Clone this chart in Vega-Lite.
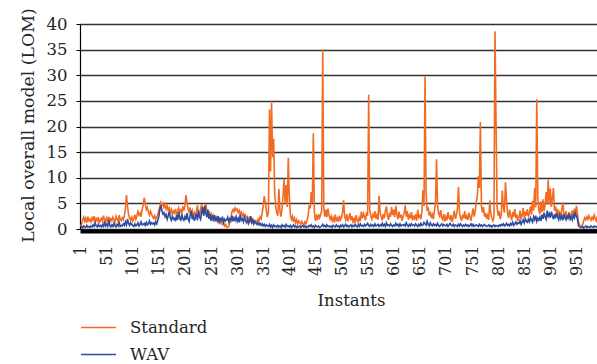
{
"$schema":"https://vega.github.io/schema/vega-lite/v6.json",
"autosize":{"type":"none"},
"padding":{"left":80,"top":24,"right":0,"bottom":135},
"width":517,"height":205,
"background":"white",
"config":{"view":{"stroke":null},"font":"DejaVu Serif",
"axisY":{"labelOverlap":false,"grid":true,"gridColor":"#333","gridWidth":1.3,"domainColor":"#000","domainWidth":1.2,"tickColor":"#000","tickSize":4,"labelPadding":9,"labelFont":"DejaVu Serif","labelFontSize":16.5,"labelColor":"#262626","titleFont":"DejaVu Serif","titleFontSize":17.3,"titleFontWeight":"normal","titleColor":"#262626","titleX":-47,"titleY":101,"titleAngle":-90,"titleBaseline":"alphabetic","titleAlign":"center"}},
"data":{"values":[
{"i":1,"s":0.6,"w":0.3},{"i":3,"s":0.9,"w":0.5},{"i":5,"s":1.8,"w":0.2},{"i":7,"s":2.3,"w":0.6},{"i":9,"s":1.5,"w":0.4},{"i":11,"s":2.1,"w":0.3},{"i":13,"s":1.2,"w":0.7},{"i":15,"s":2.4,"w":0.4},{"i":17,"s":1.6,"w":0.5},{"i":19,"s":1.9,"w":0.3},
{"i":21,"s":1.4,"w":0.6},{"i":23,"s":2.2,"w":0.4},{"i":25,"s":1.7,"w":0.8},{"i":27,"s":2.5,"w":0.5},{"i":29,"s":1.3,"w":1.2},{"i":31,"s":2.0,"w":0.6},{"i":33,"s":1.6,"w":0.4},{"i":35,"s":2.3,"w":0.9},{"i":37,"s":1.1,"w":0.5},{"i":39,"s":1.8,"w":0.7},
{"i":41,"s":2.1,"w":0.4},{"i":43,"s":1.5,"w":0.8},{"i":45,"s":2.6,"w":0.5},{"i":47,"s":1.9,"w":1.5},{"i":49,"s":1.2,"w":0.6},{"i":51,"s":2.2,"w":0.9},{"i":53,"s":1.7,"w":0.5},{"i":55,"s":2.4,"w":1.8},{"i":57,"s":1.4,"w":0.7},{"i":59,"s":2.0,"w":0.4},
{"i":61,"s":1.6,"w":0.8},{"i":63,"s":2.3,"w":0.5},{"i":65,"s":1.8,"w":1.1},{"i":67,"s":1.3,"w":0.6},{"i":69,"s":2.5,"w":0.4},{"i":71,"s":2.0,"w":0.9},{"i":73,"s":1.5,"w":0.6},{"i":75,"s":2.7,"w":1.3},{"i":77,"s":1.9,"w":0.5},{"i":79,"s":1.6,"w":0.7},
{"i":81,"s":2.2,"w":0.6},{"i":83,"s":1.8,"w":1.0},{"i":85,"s":2.6,"w":0.7},{"i":87,"s":3.9,"w":1.4},{"i":89,"s":6.6,"w":0.8},{"i":91,"s":4.5,"w":1.9},{"i":93,"s":2.8,"w":1.1},{"i":95,"s":2.1,"w":0.7},{"i":97,"s":1.7,"w":1.2},{"i":99,"s":2.3,"w":0.9},
{"i":101,"s":1.5,"w":0.7},{"i":103,"s":2.0,"w":0.5},{"i":105,"s":2.8,"w":1.0},{"i":107,"s":1.9,"w":0.6},{"i":109,"s":2.6,"w":0.8},{"i":111,"s":3.4,"w":1.2},{"i":113,"s":2.7,"w":0.6},{"i":115,"s":3.1,"w":0.9},{"i":117,"s":2.4,"w":1.4},{"i":119,"s":3.8,"w":0.8},
{"i":121,"s":4.6,"w":0.9},{"i":123,"s":6.1,"w":1.1},{"i":125,"s":4.9,"w":0.7},{"i":127,"s":3.8,"w":1.3},{"i":129,"s":4.2,"w":0.8},{"i":131,"s":3.3,"w":1.0},{"i":133,"s":2.7,"w":1.6},{"i":135,"s":3.5,"w":0.9},{"i":137,"s":2.9,"w":1.2},{"i":139,"s":2.4,"w":1.0},
{"i":141,"s":2.1,"w":1.2},{"i":143,"s":2.6,"w":0.8},{"i":145,"s":1.9,"w":1.4},{"i":147,"s":2.3,"w":1.0},{"i":149,"s":2.8,"w":1.7},{"i":151,"s":3.6,"w":2.4},{"i":153,"s":4.4,"w":3.8},{"i":155,"s":5.2,"w":4.6},{"i":157,"s":4.6,"w":3.5},{"i":159,"s":5.0,"w":2.9},
{"i":161,"s":4.2,"w":3.2},{"i":163,"s":4.8,"w":2.4},{"i":165,"s":3.9,"w":2.8},{"i":167,"s":4.5,"w":1.9},{"i":169,"s":3.6,"w":2.6},{"i":171,"s":4.1,"w":3.4},{"i":173,"s":3.2,"w":2.2},{"i":175,"s":3.8,"w":1.7},{"i":177,"s":2.9,"w":2.5},{"i":179,"s":3.5,"w":1.9},
{"i":181,"s":3.1,"w":2.1},{"i":183,"s":3.9,"w":1.5},{"i":185,"s":2.8,"w":2.7},{"i":187,"s":3.4,"w":1.8},{"i":189,"s":4.1,"w":3.3},{"i":191,"s":3.3,"w":2.2},{"i":193,"s":3.7,"w":1.6},{"i":195,"s":2.9,"w":2.9},{"i":197,"s":4.4,"w":2.0},{"i":199,"s":3.6,"w":1.7},
{"i":201,"s":4.7,"w":2.4},{"i":203,"s":6.6,"w":1.8},{"i":205,"s":5.1,"w":3.1},{"i":207,"s":4.0,"w":2.0},{"i":209,"s":3.3,"w":1.5},{"i":211,"s":4.2,"w":2.6},{"i":213,"s":2.9,"w":3.5},{"i":215,"s":3.6,"w":1.9},{"i":217,"s":2.7,"w":2.8},{"i":219,"s":3.2,"w":1.6},
{"i":221,"s":2.6,"w":2.2},{"i":223,"s":3.4,"w":3.0},{"i":225,"s":4.6,"w":1.7},{"i":227,"s":3.1,"w":3.6},{"i":229,"s":2.5,"w":2.4},{"i":231,"s":3.9,"w":1.9},{"i":233,"s":4.8,"w":3.3},{"i":235,"s":3.3,"w":4.3},{"i":237,"s":2.7,"w":2.6},{"i":239,"s":4.1,"w":4.5},
{"i":241,"s":4.9,"w":3.1},{"i":243,"s":3.6,"w":2.3},{"i":245,"s":2.8,"w":3.8},{"i":247,"s":3.5,"w":2.0},{"i":249,"s":2.4,"w":2.9},{"i":251,"s":3.0,"w":1.6},{"i":253,"s":2.2,"w":2.4},{"i":255,"s":2.7,"w":1.8},{"i":257,"s":1.9,"w":2.7},{"i":259,"s":2.4,"w":1.5},
{"i":261,"s":1.8,"w":2.2},{"i":263,"s":2.2,"w":1.6},{"i":265,"s":1.5,"w":2.5},{"i":267,"s":1.9,"w":1.4},{"i":269,"s":1.2,"w":2.0},{"i":271,"s":1.6,"w":1.7},{"i":273,"s":0.9,"w":2.4},{"i":275,"s":1.3,"w":1.3},{"i":277,"s":0.6,"w":1.9},{"i":279,"s":0.9,"w":1.6},
{"i":281,"s":0.4,"w":1.8},{"i":283,"s":0.3,"w":2.3},{"i":285,"s":0.6,"w":1.4},{"i":287,"s":1.2,"w":2.0},{"i":289,"s":2.1,"w":1.6},{"i":291,"s":3.3,"w":2.6},{"i":293,"s":3.8,"w":1.5},{"i":295,"s":3.4,"w":2.2},{"i":297,"s":4.1,"w":1.7},{"i":299,"s":3.6,"w":2.4},
{"i":301,"s":3.9,"w":1.5},{"i":303,"s":3.2,"w":2.1},{"i":305,"s":3.6,"w":1.3},{"i":307,"s":2.8,"w":2.8},{"i":309,"s":3.3,"w":1.7},{"i":311,"s":2.6,"w":2.0},{"i":313,"s":3.0,"w":1.4},{"i":315,"s":2.3,"w":2.3},{"i":317,"s":2.7,"w":1.6},{"i":319,"s":2.1,"w":1.2},
{"i":321,"s":2.4,"w":1.9},{"i":323,"s":1.8,"w":1.1},{"i":325,"s":2.2,"w":1.6},{"i":327,"s":1.5,"w":2.5},{"i":329,"s":1.9,"w":1.3},{"i":331,"s":1.3,"w":1.8},{"i":333,"s":1.7,"w":1.0},{"i":335,"s":1.2,"w":1.5},{"i":337,"s":1.6,"w":1.2},{"i":339,"s":1.4,"w":0.9},
{"i":341,"s":1.9,"w":1.3},{"i":343,"s":1.6,"w":0.8},{"i":345,"s":2.4,"w":1.1},{"i":347,"s":2.0,"w":0.7},{"i":349,"s":3.1,"w":1.0},{"i":351,"s":4.5,"w":0.6},{"i":353,"s":6.4,"w":0.9},{"i":355,"s":5.2,"w":0.5},{"i":357,"s":3.6,"w":0.8},{"i":359,"s":2.3,"w":0.6},
{"i":361,"s":3.5,"w":0.5},{"i":363,"s":23.3,"w":0.9},{"i":365,"s":11.2,"w":0.4},{"i":367,"s":24.6,"w":0.7},{"i":369,"s":14.0,"w":0.3},{"i":371,"s":17.6,"w":0.8},{"i":373,"s":6.8,"w":0.5},{"i":375,"s":4.2,"w":0.6},{"i":377,"s":3.1,"w":0.4},{"i":379,"s":2.6,"w":0.7},
{"i":381,"s":7.8,"w":0.4},{"i":383,"s":3.5,"w":0.6},{"i":385,"s":2.4,"w":0.3},{"i":387,"s":4.1,"w":0.8},{"i":389,"s":6.5,"w":0.5},{"i":391,"s":9.8,"w":0.7},{"i":393,"s":5.2,"w":0.4},{"i":395,"s":8.6,"w":0.9},{"i":397,"s":4.3,"w":0.5},{"i":399,"s":13.9,"w":0.6},
{"i":401,"s":6.2,"w":0.4},{"i":403,"s":2.8,"w":0.7},{"i":405,"s":1.9,"w":0.3},{"i":407,"s":2.5,"w":0.5},{"i":409,"s":1.4,"w":0.8},{"i":411,"s":2.1,"w":0.4},{"i":413,"s":1.2,"w":0.6},{"i":415,"s":1.8,"w":0.3},{"i":417,"s":1.0,"w":0.5},{"i":419,"s":1.6,"w":0.4},
{"i":421,"s":1.3,"w":0.6},{"i":423,"s":0.9,"w":0.3},{"i":425,"s":1.5,"w":0.5},{"i":427,"s":1.1,"w":0.7},{"i":429,"s":0.8,"w":0.4},{"i":431,"s":1.4,"w":0.6},{"i":433,"s":1.0,"w":0.3},{"i":435,"s":1.7,"w":0.5},{"i":437,"s":2.6,"w":0.4},{"i":439,"s":4.6,"w":0.7},
{"i":441,"s":4.0,"w":0.5},{"i":443,"s":7.2,"w":0.8},{"i":445,"s":5.1,"w":0.4},{"i":447,"s":18.7,"w":0.6},{"i":449,"s":3.4,"w":0.3},{"i":451,"s":1.6,"w":0.7},{"i":453,"s":2.5,"w":0.5},{"i":455,"s":1.8,"w":0.4},{"i":457,"s":2.9,"w":0.6},{"i":459,"s":2.2,"w":0.3},
{"i":461,"s":2.8,"w":0.4},{"i":463,"s":3.6,"w":0.6},{"i":465,"s":35.0,"w":0.9},{"i":467,"s":4.2,"w":0.5},{"i":469,"s":2.4,"w":0.7},{"i":471,"s":3.8,"w":0.4},{"i":473,"s":2.3,"w":0.8},{"i":475,"s":4.0,"w":0.5},{"i":477,"s":2.7,"w":0.6},{"i":479,"s":1.9,"w":0.4},
{"i":481,"s":2.5,"w":0.6},{"i":483,"s":1.6,"w":0.3},{"i":485,"s":2.2,"w":0.7},{"i":487,"s":1.3,"w":0.5},{"i":489,"s":2.8,"w":0.4},{"i":491,"s":1.7,"w":0.8},{"i":493,"s":2.1,"w":0.5},{"i":495,"s":1.4,"w":0.6},{"i":497,"s":2.6,"w":0.3},{"i":499,"s":1.8,"w":0.7},
{"i":501,"s":2.3,"w":0.5},{"i":503,"s":3.3,"w":0.8},{"i":505,"s":5.6,"w":0.4},{"i":507,"s":2.4,"w":0.6},{"i":509,"s":1.8,"w":0.9},{"i":511,"s":2.9,"w":0.5},{"i":513,"s":1.5,"w":0.7},{"i":515,"s":2.2,"w":0.4},{"i":517,"s":3.1,"w":0.6},{"i":519,"s":1.7,"w":0.8},
{"i":521,"s":2.5,"w":0.4},{"i":523,"s":1.4,"w":0.7},{"i":525,"s":2.0,"w":0.5},{"i":527,"s":1.2,"w":0.9},{"i":529,"s":2.7,"w":0.6},{"i":531,"s":1.8,"w":0.4},{"i":533,"s":1.3,"w":0.8},{"i":535,"s":2.2,"w":0.5},{"i":537,"s":1.6,"w":1.0},{"i":539,"s":3.4,"w":0.6},
{"i":541,"s":2.1,"w":0.7},{"i":543,"s":3.0,"w":0.5},{"i":545,"s":2.4,"w":0.9},{"i":547,"s":1.7,"w":0.6},{"i":549,"s":3.3,"w":0.8},{"i":551,"s":2.6,"w":1.1},{"i":553,"s":26.2,"w":0.7},{"i":555,"s":3.8,"w":0.5},{"i":557,"s":2.5,"w":0.9},{"i":559,"s":1.9,"w":0.6},
{"i":561,"s":2.8,"w":0.8},{"i":563,"s":2.2,"w":0.5},{"i":565,"s":3.5,"w":1.0},{"i":567,"s":2.0,"w":0.6},{"i":569,"s":2.7,"w":0.7},{"i":571,"s":1.8,"w":0.9},{"i":573,"s":6.5,"w":0.5},{"i":575,"s":3.2,"w":0.8},{"i":577,"s":2.4,"w":0.6},{"i":579,"s":1.7,"w":1.1},
{"i":581,"s":2.9,"w":0.6},{"i":583,"s":2.1,"w":0.9},{"i":585,"s":3.6,"w":0.5},{"i":587,"s":4.4,"w":1.2},{"i":589,"s":2.5,"w":0.7},{"i":591,"s":1.8,"w":0.8},{"i":593,"s":3.2,"w":0.6},{"i":595,"s":2.4,"w":1.0},{"i":597,"s":4.3,"w":0.7},{"i":599,"s":2.7,"w":0.5},
{"i":601,"s":3.8,"w":0.8},{"i":603,"s":2.3,"w":0.6},{"i":605,"s":4.5,"w":1.1},{"i":607,"s":2.9,"w":0.7},{"i":609,"s":1.9,"w":0.9},{"i":611,"s":3.4,"w":0.5},{"i":613,"s":2.2,"w":1.0},{"i":615,"s":2.8,"w":0.6},{"i":617,"s":1.6,"w":0.8},{"i":619,"s":2.5,"w":0.7},
{"i":621,"s":3.1,"w":0.9},{"i":623,"s":4.6,"w":0.6},{"i":625,"s":2.4,"w":1.2},{"i":627,"s":3.5,"w":0.7},{"i":629,"s":1.8,"w":0.5},{"i":631,"s":2.7,"w":0.9},{"i":633,"s":2.1,"w":0.6},{"i":635,"s":3.3,"w":1.0},{"i":637,"s":1.7,"w":0.7},{"i":639,"s":2.4,"w":0.8},
{"i":641,"s":2.0,"w":0.6},{"i":643,"s":2.9,"w":1.0},{"i":645,"s":1.6,"w":0.7},{"i":647,"s":3.8,"w":0.5},{"i":649,"s":2.3,"w":0.9},{"i":651,"s":2.6,"w":0.6},{"i":653,"s":1.9,"w":1.1},{"i":655,"s":3.4,"w":0.7},{"i":657,"s":7.6,"w":0.8},{"i":659,"s":4.5,"w":1.3},
{"i":661,"s":29.7,"w":1.0},{"i":663,"s":6.8,"w":0.7},{"i":665,"s":3.5,"w":1.5},{"i":667,"s":4.2,"w":0.9},{"i":669,"s":2.6,"w":0.6},{"i":671,"s":3.4,"w":1.2},{"i":673,"s":2.1,"w":0.8},{"i":675,"s":2.8,"w":0.6},{"i":677,"s":1.9,"w":1.0},{"i":679,"s":3.6,"w":0.7},
{"i":681,"s":5.1,"w":0.9},{"i":683,"s":13.6,"w":0.6},{"i":685,"s":4.4,"w":1.1},{"i":687,"s":3.0,"w":0.7},{"i":689,"s":2.5,"w":0.5},{"i":691,"s":3.7,"w":0.8},{"i":693,"s":2.2,"w":1.0},{"i":695,"s":1.8,"w":0.6},{"i":697,"s":2.9,"w":0.9},{"i":699,"s":1.5,"w":0.7},
{"i":701,"s":2.4,"w":0.6},{"i":703,"s":1.7,"w":0.9},{"i":705,"s":3.3,"w":0.5},{"i":707,"s":2.2,"w":0.8},{"i":709,"s":1.9,"w":1.1},{"i":711,"s":2.7,"w":0.7},{"i":713,"s":1.4,"w":0.6},{"i":715,"s":2.3,"w":0.9},{"i":717,"s":3.6,"w":0.5},{"i":719,"s":2.0,"w":0.8},
{"i":721,"s":2.6,"w":0.7},{"i":723,"s":3.9,"w":0.5},{"i":725,"s":8.2,"w":0.9},{"i":727,"s":3.1,"w":0.6},{"i":729,"s":2.2,"w":1.0},{"i":731,"s":1.6,"w":0.7},{"i":733,"s":2.8,"w":0.5},{"i":735,"s":2.1,"w":0.8},{"i":737,"s":3.5,"w":0.6},{"i":739,"s":1.9,"w":0.9},
{"i":741,"s":2.5,"w":0.6},{"i":743,"s":1.8,"w":0.8},{"i":745,"s":3.2,"w":0.5},{"i":747,"s":2.3,"w":0.7},{"i":749,"s":1.6,"w":1.0},{"i":751,"s":2.9,"w":0.6},{"i":753,"s":4.0,"w":0.9},{"i":755,"s":2.4,"w":0.5},{"i":757,"s":3.4,"w":0.7},{"i":759,"s":5.2,"w":0.8},
{"i":761,"s":6.2,"w":0.7},{"i":763,"s":10.3,"w":0.5},{"i":765,"s":8.0,"w":0.9},{"i":767,"s":20.9,"w":0.6},{"i":769,"s":4.5,"w":0.8},{"i":771,"s":3.2,"w":0.5},{"i":773,"s":4.3,"w":0.7},{"i":775,"s":2.4,"w":0.9},{"i":777,"s":3.1,"w":0.6},{"i":779,"s":2.0,"w":0.5},
{"i":781,"s":2.7,"w":0.6},{"i":783,"s":1.8,"w":0.8},{"i":785,"s":5.6,"w":0.5},{"i":787,"s":3.0,"w":0.7},{"i":789,"s":2.2,"w":0.4},{"i":791,"s":1.6,"w":0.6},{"i":793,"s":2.4,"w":0.8},{"i":795,"s":38.6,"w":0.5},{"i":797,"s":21.1,"w":0.7},{"i":799,"s":4.2,"w":0.6},
{"i":801,"s":2.6,"w":0.5},{"i":803,"s":3.5,"w":0.8},{"i":805,"s":1.9,"w":0.6},{"i":807,"s":2.8,"w":0.9},{"i":809,"s":7.5,"w":0.7},{"i":811,"s":4.1,"w":1.0},{"i":813,"s":3.2,"w":0.6},{"i":815,"s":9.1,"w":0.8},{"i":817,"s":5.8,"w":1.1},{"i":819,"s":3.0,"w":0.7},
{"i":821,"s":2.2,"w":0.9},{"i":823,"s":3.8,"w":0.6},{"i":825,"s":2.6,"w":1.1},{"i":827,"s":1.7,"w":0.8},{"i":829,"s":3.3,"w":1.3},{"i":831,"s":2.4,"w":0.7},{"i":833,"s":3.9,"w":1.0},{"i":835,"s":2.1,"w":1.4},{"i":837,"s":2.8,"w":0.9},{"i":839,"s":1.6,"w":1.2},
{"i":841,"s":2.3,"w":1.1},{"i":843,"s":3.6,"w":1.6},{"i":845,"s":1.9,"w":0.9},{"i":847,"s":2.7,"w":1.4},{"i":849,"s":4.1,"w":1.8},{"i":851,"s":2.2,"w":1.2},{"i":853,"s":3.4,"w":2.0},{"i":855,"s":2.6,"w":1.5},{"i":857,"s":3.9,"w":1.3},{"i":859,"s":2.4,"w":1.9},
{"i":861,"s":3.1,"w":1.4},{"i":863,"s":4.4,"w":2.2},{"i":865,"s":2.8,"w":1.7},{"i":867,"s":5.5,"w":1.3},{"i":869,"s":3.6,"w":2.4},{"i":871,"s":8.0,"w":1.8},{"i":873,"s":4.2,"w":2.6},{"i":875,"s":25.3,"w":1.5},{"i":877,"s":6.2,"w":2.1},{"i":879,"s":3.8,"w":1.7},
{"i":881,"s":2.9,"w":2.3},{"i":883,"s":5.4,"w":1.6},{"i":885,"s":3.3,"w":2.8},{"i":887,"s":5.8,"w":2.0},{"i":889,"s":3.5,"w":3.2},{"i":891,"s":4.6,"w":2.4},{"i":893,"s":7.2,"w":1.9},{"i":895,"s":5.0,"w":3.6},{"i":897,"s":9.6,"w":2.5},{"i":899,"s":4.8,"w":3.0},
{"i":901,"s":7.9,"w":2.2},{"i":903,"s":4.3,"w":3.4},{"i":905,"s":6.1,"w":2.6},{"i":907,"s":8.0,"w":1.9},{"i":909,"s":3.6,"w":2.9},{"i":911,"s":4.4,"w":2.1},{"i":913,"s":2.8,"w":3.1},{"i":915,"s":3.9,"w":2.4},{"i":917,"s":2.4,"w":1.8},{"i":919,"s":3.2,"w":2.7},
{"i":921,"s":2.6,"w":2.0},{"i":923,"s":3.8,"w":2.6},{"i":925,"s":5.2,"w":1.7},{"i":927,"s":2.9,"w":2.9},{"i":929,"s":2.2,"w":2.2},{"i":931,"s":3.5,"w":1.8},{"i":933,"s":1.9,"w":2.5},{"i":935,"s":2.7,"w":2.1},{"i":937,"s":3.3,"w":3.0},{"i":939,"s":2.1,"w":1.9},
{"i":941,"s":2.8,"w":2.4},{"i":943,"s":3.6,"w":1.8},{"i":945,"s":2.3,"w":2.7},{"i":947,"s":4.0,"w":2.2},{"i":949,"s":2.6,"w":3.1},{"i":951,"s":4.5,"w":2.5},{"i":953,"s":2.9,"w":1.9},{"i":955,"s":1.4,"w":0.6},{"i":957,"s":0.8,"w":0.4},{"i":959,"s":0.6,"w":0.3},
{"i":961,"s":0.5,"w":0.3},{"i":963,"s":0.9,"w":0.5},{"i":965,"s":1.6,"w":0.2},{"i":967,"s":2.2,"w":0.4},{"i":969,"s":1.8,"w":0.6},{"i":971,"s":2.4,"w":0.3},{"i":973,"s":1.9,"w":0.5},{"i":975,"s":2.6,"w":0.4},{"i":977,"s":2.1,"w":0.3},{"i":979,"s":1.7,"w":0.6},
{"i":981,"s":2.3,"w":0.4},{"i":983,"s":1.9,"w":0.3},{"i":985,"s":2.7,"w":0.6},{"i":987,"s":2.0,"w":0.4},{"i":989,"s":1.6,"w":0.5},{"i":991,"s":2.4,"w":0.3},{"i":993,"s":1.8,"w":0.7},{"i":995,"s":2.2,"w":0.4},{"i":997,"s":1.5,"w":0.5},{"i":999,"s":1.9,"w":0.3}
]},
"encoding":{
"x":{"field":"i","type":"quantitative","scale":{"domain":[0,990.4],"nice":false,"zero":false},
"axis":{"title":"Instants","values":[1,51,101,151,201,251,301,351,401,451,501,551,601,651,701,751,801,851,901,951],
"labelAngle":-90,"labelFont":"DejaVu Serif","labelFontSize":16,"labelColor":"#262626","labelPadding":14,"ticks":false,"grid":false,
"domainColor":"#000","domainWidth":4,"offset":2,"labelOverlap":false,"labelFlush":false,
"titleFont":"DejaVu Serif","titleFontSize":16.5,"titleFontWeight":"normal","titleColor":"#262626","titleX":271,"titleY":74,"titleBaseline":"alphabetic","titleAlign":"center"}}
},
"layer":[
{"mark":{"type":"line","strokeWidth":1.6,"clip":true},
"encoding":{"y":{"field":"s","type":"quantitative","scale":{"domain":[0,40],"nice":false},
"axis":{"title":"Local overall model (LOM)","values":[0,5,10,15,20,25,30,35,40]}},
"color":{"datum":"Standard","type":"nominal","scale":{"domain":["Standard","WAV"],"range":["#F26B21","#2F4D9E"]},
"legend":{"title":null,"orient":"none","legendX":0,"legendY":285,"direction":"vertical","symbolType":"stroke","symbolSize":1225,"symbolStrokeWidth":1.5,
"labelFont":"DejaVu Serif","labelFontSize":16.5,"labelColor":"#262626","labelOffset":13,"padding":0,"rowPadding":-9}}}},
{"mark":{"type":"line","strokeWidth":1.6,"clip":true},
"encoding":{"y":{"field":"w","type":"quantitative","axis":{"title":"Local overall model (LOM)","values":[0,5,10,15,20,25,30,35,40]}},
"color":{"datum":"WAV","type":"nominal"}}}
]
}
